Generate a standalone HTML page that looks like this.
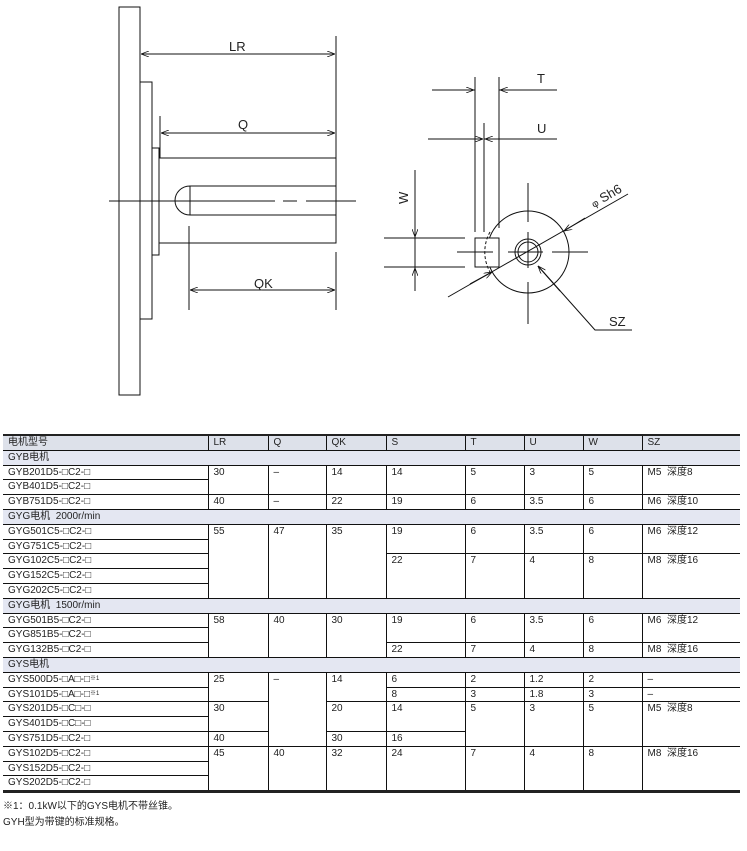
<!DOCTYPE html>
<html><head><meta charset="utf-8"><style>
body{margin:0;background:#fff;width:747px;height:851px;position:relative;overflow:hidden;font-family:"Liberation Sans","Noto Sans CJK SC",sans-serif;}
svg{position:absolute;left:0;top:0}
table{position:absolute;left:3px;top:434px;width:737px;border-collapse:collapse;table-layout:fixed;font-size:10px;color:#222;border-top:2px solid #222;border-bottom:3px solid #222}
td{border:1px solid #111;height:12.8px;padding:1px 0 0 5px;vertical-align:top;line-height:12px;white-space:nowrap;overflow:hidden}
tr td:first-child{border-left:none}
tr td:last-child{border-right:none}
tr.h td{background:#dde1ea;border-left:none;border-right:none}
tr.h td+td{border-left:1px solid #111}
tr.g td{background:#e4e7f2}
.n{position:absolute;left:3px;font-size:10px;color:#222}
sup{font-size:6px;vertical-align:2px;line-height:0}
</style></head><body>
<svg width="747" height="430" viewBox="0 0 747 430" fill="none" stroke="#111" stroke-width="1">
<defs><marker id="a" markerWidth="8" markerHeight="6" refX="8" refY="3" orient="auto-start-reverse" markerUnits="userSpaceOnUse"><path d="M0,0 L8,3 L0,6" fill="none" stroke="#111" stroke-width="0.8"/></marker></defs>
<rect x="119" y="7" width="21" height="388"/>
<rect x="140" y="82" width="12" height="237"/>
<rect x="152" y="148" width="7" height="107"/>
<rect x="159" y="158" width="177" height="85"/>
<path d="M190,186 H336 M190,215 H336 M190,186 V215 M190,186 A15,14.5 0 0 0 190,215"/>
<path d="M109,201 H275 M283,201 H297 M306,201 H356"/>
<path d="M336,36 V158 M160,116 V158 M189,226 V310 M336,252 V310"/>
<line x1="141" y1="54" x2="335" y2="54" marker-start="url(#a)" marker-end="url(#a)"/>
<line x1="161" y1="133" x2="335" y2="133" marker-start="url(#a)" marker-end="url(#a)"/>
<line x1="190" y1="290" x2="335" y2="290" marker-start="url(#a)" marker-end="url(#a)"/>
<circle cx="528" cy="252" r="41"/>
<circle cx="528" cy="252" r="13"/>
<circle cx="528" cy="252" r="10"/>
<rect x="475" y="238" width="24" height="29" fill="#fff"/>
<path d="M490,232 A41,41 0 0 0 490,272" stroke-dasharray="3,2"/>
<path d="M528,183 V222 M528,232 V268 M528,282 V324 M457,252 H493 M508,252 H543 M552,252 H588"/>
<path d="M475,77 V232 M499,77 V228 M484,123 V232"/>
<path d="M432,90 H475 M499,90 H557 M428,139 H475 M484,139 H557"/>
<line x1="455" y1="90" x2="474" y2="90" marker-end="url(#a)"/>
<line x1="520" y1="90" x2="500" y2="90" marker-end="url(#a)"/>
<line x1="460" y1="139" x2="483" y2="139" marker-end="url(#a)"/>
<line x1="520" y1="139" x2="485" y2="139" marker-end="url(#a)"/>
<path d="M415,170 V291 M384,238 H465 M384,267 H465"/>
<line x1="415" y1="220" x2="415" y2="237" marker-end="url(#a)"/>
<line x1="415" y1="285" x2="415" y2="268" marker-end="url(#a)"/>
<line x1="448" y1="297" x2="628" y2="194"/>
<line x1="470" y1="284" x2="492" y2="272" marker-end="url(#a)"/>
<line x1="585" y1="218" x2="564" y2="231" marker-end="url(#a)"/>
<path d="M632,330 H595 L538,266"/>
<line x1="560" y1="291" x2="538" y2="266" marker-end="url(#a)"/>
<g fill="#222" stroke="none" font-family="Liberation Sans,sans-serif" font-size="13">
<text x="229" y="51">LR</text>
<text x="238" y="129">Q</text>
<text x="254" y="288">QK</text>
<text x="537" y="83">T</text>
<text x="537" y="133">U</text>
<text x="609" y="326">SZ</text>
<text transform="translate(408,204) rotate(-90)">W</text>
<text transform="translate(594,208) rotate(-30)"><tspan font-size="10">φ</tspan> Sh6</text>
</g>
</svg>
<table>
<colgroup><col style="width:205px"><col style="width:60px"><col style="width:58px"><col style="width:60px"><col style="width:79px"><col style="width:59px"><col style="width:59px"><col style="width:59px"><col style="width:98px"></colgroup>
<tr class="h"><td>电机型号</td><td>LR</td><td>Q</td><td>QK</td><td>S</td><td>T</td><td>U</td><td>W</td><td>SZ</td></tr>
<tr class="g"><td colspan="9">GYB电机</td></tr>
<tr><td>GYB201D5-□C2-□</td><td rowspan="2">30</td><td rowspan="2">–</td><td rowspan="2">14</td><td rowspan="2">14</td><td rowspan="2">5</td><td rowspan="2">3</td><td rowspan="2">5</td><td rowspan="2">M5&nbsp; 深度8</td></tr>
<tr><td>GYB401D5-□C2-□</td></tr>
<tr><td>GYB751D5-□C2-□</td><td>40</td><td>–</td><td>22</td><td>19</td><td>6</td><td>3.5</td><td>6</td><td>M6&nbsp; 深度10</td></tr>
<tr class="g"><td colspan="9">GYG电机&nbsp; 2000r/min</td></tr>
<tr><td>GYG501C5-□C2-□</td><td rowspan="5">55</td><td rowspan="5">47</td><td rowspan="5">35</td><td rowspan="2">19</td><td rowspan="2">6</td><td rowspan="2">3.5</td><td rowspan="2">6</td><td rowspan="2">M6&nbsp; 深度12</td></tr>
<tr><td>GYG751C5-□C2-□</td></tr>
<tr><td>GYG102C5-□C2-□</td><td rowspan="3">22</td><td rowspan="3">7</td><td rowspan="3">4</td><td rowspan="3">8</td><td rowspan="3">M8&nbsp; 深度16</td></tr>
<tr><td>GYG152C5-□C2-□</td></tr>
<tr><td>GYG202C5-□C2-□</td></tr>
<tr class="g"><td colspan="9">GYG电机&nbsp; 1500r/min</td></tr>
<tr><td>GYG501B5-□C2-□</td><td rowspan="3">58</td><td rowspan="3">40</td><td rowspan="3">30</td><td rowspan="2">19</td><td rowspan="2">6</td><td rowspan="2">3.5</td><td rowspan="2">6</td><td rowspan="2">M6&nbsp; 深度12</td></tr>
<tr><td>GYG851B5-□C2-□</td></tr>
<tr><td>GYG132B5-□C2-□</td><td>22</td><td>7</td><td>4</td><td>8</td><td>M8&nbsp; 深度16</td></tr>
<tr class="g"><td colspan="9">GYS电机</td></tr>
<tr><td>GYS500D5-□A□-□<sup>※1</sup></td><td rowspan="2">25</td><td rowspan="5">–</td><td rowspan="2">14</td><td>6</td><td>2</td><td>1.2</td><td>2</td><td>–</td></tr>
<tr><td>GYS101D5-□A□-□<sup>※1</sup></td><td>8</td><td>3</td><td>1.8</td><td>3</td><td>–</td></tr>
<tr><td>GYS201D5-□C□-□</td><td rowspan="2">30</td><td rowspan="2">20</td><td rowspan="2">14</td><td rowspan="3">5</td><td rowspan="3">3</td><td rowspan="3">5</td><td rowspan="3">M5&nbsp; 深度8</td></tr>
<tr><td>GYS401D5-□C□-□</td></tr>
<tr><td>GYS751D5-□C2-□</td><td>40</td><td>30</td><td>16</td></tr>
<tr><td>GYS102D5-□C2-□</td><td rowspan="3">45</td><td rowspan="3">40</td><td rowspan="3">32</td><td rowspan="3">24</td><td rowspan="3">7</td><td rowspan="3">4</td><td rowspan="3">8</td><td rowspan="3">M8&nbsp; 深度16</td></tr>
<tr><td>GYS152D5-□C2-□</td></tr>
<tr><td>GYS202D5-□C2-□</td></tr>
</table>
<div class="n" style="top:797px">※1：0.1kW以下的GYS电机不带丝锥。</div>
<div class="n" style="top:813px">GYH型为带键的标准规格。</div>
</body></html>
